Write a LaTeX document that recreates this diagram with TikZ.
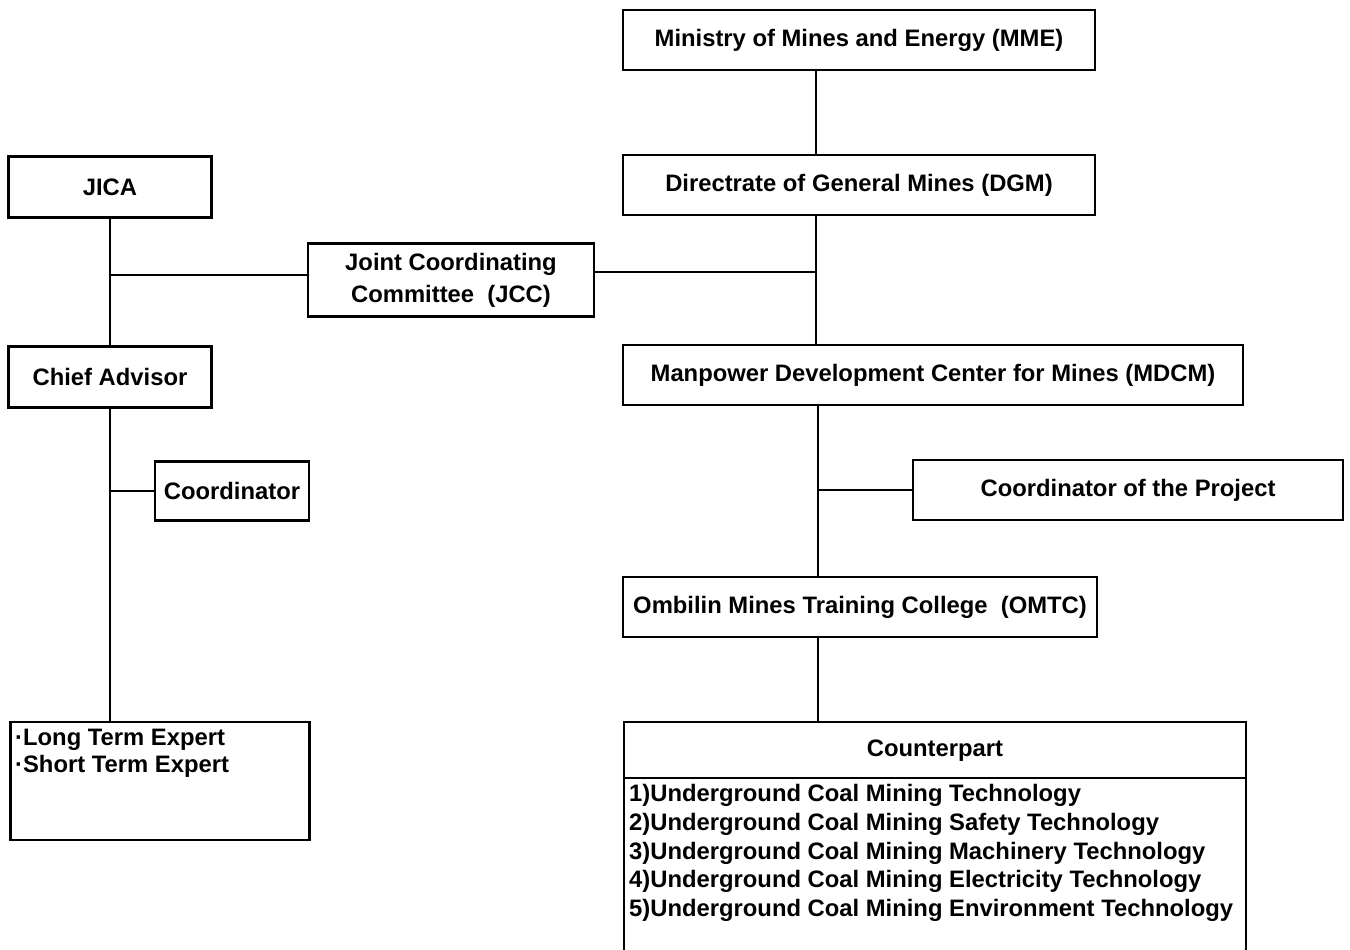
\documentclass[tikz,border=0pt]{standalone}
\usepackage{fontspec}
\setmainfont{Liberation Sans}
\begin{document}
\begin{tikzpicture}[x=1pt,y=-1pt,
  box/.style={draw, line width=2.6pt, inner sep=0pt, font=\bfseries\fontsize{23.8}{32}\selectfont, align=center},
  conn/.style={line width=1.6pt},
  lbl/.style={inner sep=0pt, font=\bfseries\fontsize{23.8}{28.8}\selectfont, align=left}]
\useasboundingbox (0,0) rectangle (1350,950);
% boxes (centre, width, height)
\node[box, minimum width=472, minimum height=60] (mme) at (859,40) {Ministry of Mines and Energy (MME)};
\node[box, minimum width=472, minimum height=60] (dgm) at (859,185) {Directrate of General Mines (DGM)};
\node[box, minimum width=203, minimum height=61] (jica) at (110,187) {JICA};
\node[box, minimum width=286, minimum height=73] (jcc) at (451,280) {Joint Coordinating\\Committee\ \ (JCC)};
\node[box, minimum width=203, minimum height=61] (chief) at (110,377) {Chief Advisor};
\node[box, minimum width=620, minimum height=60] (mdcm) at (933,375) {Manpower Development Center for Mines (MDCM)};
\node[box, minimum width=154, minimum height=59] (coord) at (232,491) {Coordinator};
\node[box, minimum width=430, minimum height=60] (cproj) at (1128,490) {Coordinator of the Project};
\node[box, minimum width=474, minimum height=60] (omtc) at (860,607) {Ombilin Mines Training College\ \ (OMTC)};
\node[box, minimum width=299, minimum height=118] (expert) at (160,781) {};
\node[lbl, anchor=north west, font=\bfseries\fontsize{23.8}{27}\selectfont] (experttxt) at (15,729) {·Long Term Expert\\·Short Term Expert};
% counterpart box (open at the bottom edge of the picture)
\coordinate (cpbl) at (624,952);
\coordinate (cptl) at (624,722);
\coordinate (cptr) at (1246,722);
\coordinate (cpbr) at (1246,952);
\coordinate (cpdl) at (624,778);
\coordinate (cpdr) at (1246,778);
\coordinate (cptop) at (818,722);
\draw[line width=2.6pt] (cpbl) -- (cptl) -- (cptr) -- (cpbr);
\draw[line width=2pt] (cpdl) -- (cpdr);
\node[lbl] (cphead) at (935,751) {Counterpart};
\node[lbl, anchor=north west] (cplist) at (629,784) {1)Underground Coal Mining Technology\\
2)Underground Coal Mining Safety Technology\\
3)Underground Coal Mining Machinery Technology\\
4)Underground Coal Mining Electricity Technology\\
5)Underground Coal Mining Environment Technology};
% connectors
\coordinate (jl) at (110,275);
\coordinate (jr) at (816,272);
\coordinate (cl) at (110,491);
\coordinate (pr) at (818,490);
\draw[conn] (mme.south -| 816,0) -- (dgm.north -| 816,0);
\draw[conn] (dgm.south -| 816,0) -- (mdcm.north -| 816,0);
\draw[conn] (jcc.east |- jr) -- (jr);
\draw[conn] (jica) -- (chief);
\draw[conn] (jl) -- (jcc.west |- jl);
\draw[conn] (chief.south) -- (expert.north -| chief.south);
\draw[conn] (cl) -- (coord.west);
\draw[conn] (mdcm.south -| 818,0) -- (omtc.north -| 818,0);
\draw[conn] (pr) -- (cproj.west |- pr);
\draw[conn] (omtc.south -| 818,0) -- (cptop);
\end{tikzpicture}
\end{document}
